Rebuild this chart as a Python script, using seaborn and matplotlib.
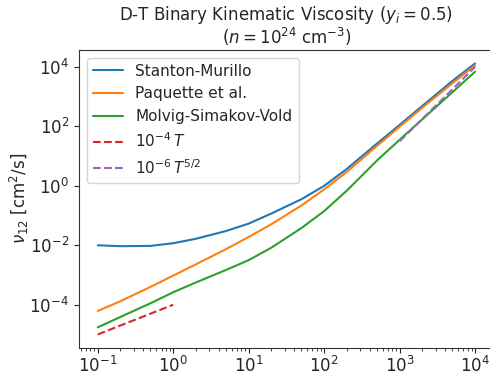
import numpy as np
import pandas as pd
import matplotlib
matplotlib.use("Agg")
import matplotlib.pyplot as plt
import seaborn as sns

# Temperature grid [eV]
temperature = [0.1, 0.2, 0.5, 1, 2, 5, 10, 20, 50, 100, 200, 500, 1000, 2000, 5000, 10000]

# log10 of kinematic viscosity [cm^2/s] for each model
log_nu_stanton_murillo = [-2.00, -2.03, -2.02, -1.93, -1.78, -1.52, -1.27, -0.93, -0.45, 0.00,
                          0.57, 1.42, 2.05, 2.69, 3.53, 4.12]
log_nu_paquette = [-4.21, -3.88, -3.40, -3.02, -2.64, -2.13, -1.72, -1.29, -0.66, -0.12,
                   0.47, 1.34, 1.99, 2.63, 3.45, 4.05]
log_nu_msv = [-4.76, -4.41, -3.95, -3.58, -3.25, -2.83, -2.50, -2.08, -1.42, -0.85,
              -0.16, 0.85, 1.55, 2.24, 3.15, 3.84]

# Power-law guides: 1e-4 T (low T) and 1e-6 T^(5/2) (high T)
guide_low_T = [0.1, 1.0]
guide_high_T = [1e3, 1e4]
guide_low_coef, guide_low_exp = 1e-4, 1.0
guide_high_coef, guide_high_exp = 1e-6, 2.5

models = ["Stanton-Murillo", "Paquette et al.", "Molvig-Simakov-Vold"]
model_logs = [log_nu_stanton_murillo, log_nu_paquette, log_nu_msv]

frames = []
for name, logs in zip(models, model_logs):
    frames.append(pd.DataFrame({"T": temperature, "nu": 10.0 ** np.array(logs), "model": name}))
df = pd.concat(frames, ignore_index=True)

low = pd.DataFrame({"T": guide_low_T,
                    "nu": guide_low_coef * np.array(guide_low_T) ** guide_low_exp})
high = pd.DataFrame({"T": guide_high_T,
                     "nu": guide_high_coef * np.array(guide_high_T) ** guide_high_exp})

sns.set_style("ticks")
plt.rcParams.update({
    "font.family": ["DejaVu Sans"],
    "xtick.labelsize": 12,
    "ytick.labelsize": 12,
    "axes.labelsize": 12,
    "axes.titlesize": 12,
    "legend.fontsize": 11,
    "axes.edgecolor": "#333333",
    "xtick.major.pad": 2.5,
})

fig = plt.figure(figsize=(4.9, 3.75), dpi=100)
ax = fig.add_axes([0.161, 0.072, 0.847, 0.795])

palette = sns.color_palette("tab10")
for i, name in enumerate(models):
    sns.lineplot(data=df[df["model"] == name], x="T", y="nu", ax=ax,
                 color=palette[i], lw=1.5, label=name, sort=True)
sns.lineplot(data=low, x="T", y="nu", ax=ax, color=palette[3], lw=1.5,
             linestyle="--", label=r"$10^{-4}\,T$")
sns.lineplot(data=high, x="T", y="nu", ax=ax, color=palette[4], lw=1.5,
             linestyle="--", label=r"$10^{-6}\,T^{5/2}$")

ax.set_xscale("log")
ax.set_yscale("log")
ax.set_xlabel("")
ax.set_ylabel(r"$\nu_{12}$ [cm$^2$/s]", labelpad=-1)
ax.set_title("D-T Binary Kinematic Viscosity ($y_i = 0.5$)\n($n = 10^{24}$ cm$^{-3}$)",
             linespacing=1.0, pad=4)
ax.set_yticks([1e-4, 1e-2, 1e0, 1e2, 1e4])
for s in ax.spines.values():
    s.set_visible(True)
ax.legend(loc="upper left", frameon=True)

fig.savefig("out.png", dpi=100)
